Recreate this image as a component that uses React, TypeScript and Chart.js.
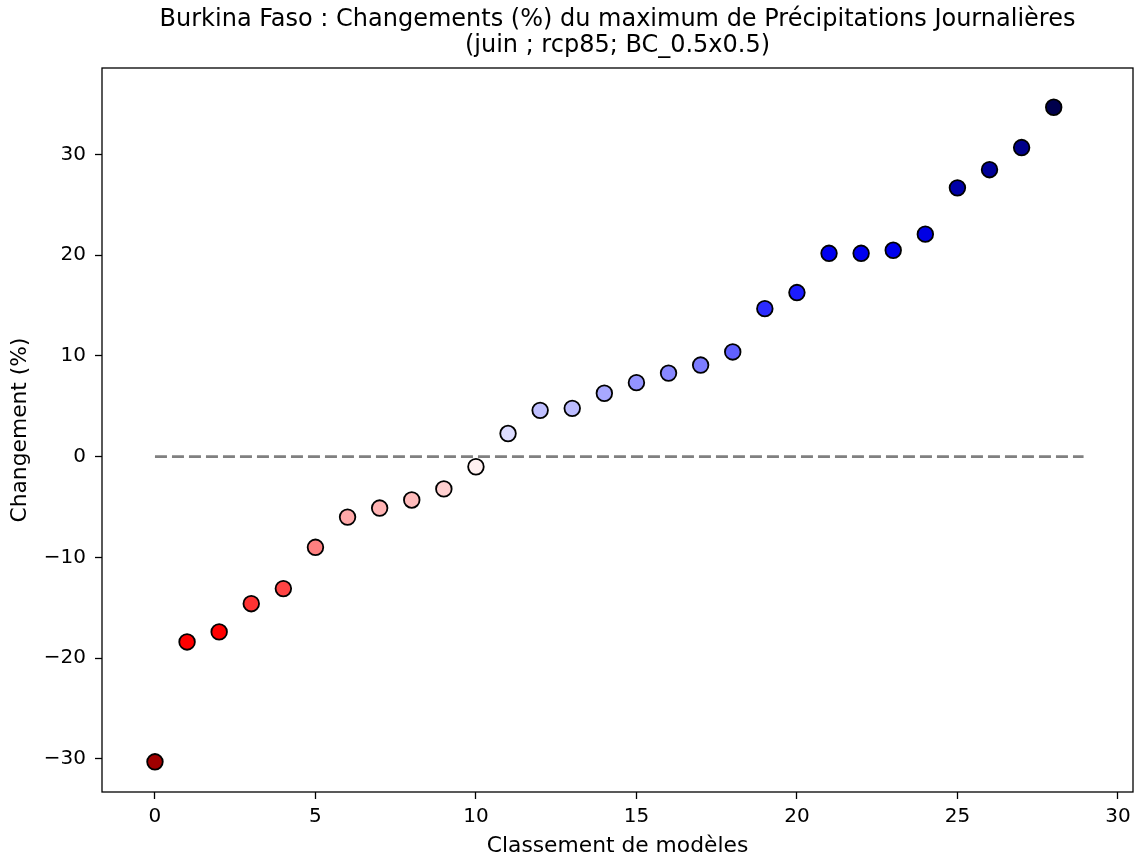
import React, { useEffect, useRef } from "react";
import { Chart, registerables } from "chart.js";

Chart.register(...registerables);

const ranks = [0, 1, 2, 3, 4, 5, 6, 7, 8, 9, 10, 11, 12, 13, 14, 15, 16, 17, 18, 19, 20, 21, 22, 23, 24, 25, 26, 27, 28];
const changes = [-30.3, -18.4, -17.4, -14.6, -13.1, -9.0, -6.0, -5.1, -4.3, -3.2, -1.0, 2.3, 4.6, 4.8, 6.3, 7.35, 8.3, 9.1, 10.4, 14.7, 16.3, 20.2, 20.2, 20.5, 22.1, 26.7, 28.5, 30.7, 34.7];
const pointColors = [
  "#a00000", "#ff0000", "#ff0000", "#ff3333", "#ff4444", "#ff8080", "#ffa8a8", "#ffb3b3", "#ffbcbc", "#ffd0d0",
  "#fff0f0", "#dcdcff", "#c0c0ff", "#bcbcff", "#a8a8ff", "#9494ff", "#8888ff", "#7c7cff", "#6060ff", "#2c2cff",
  "#1c1cff", "#0000f0", "#0000f0", "#0000ec", "#0000e4", "#0000a8", "#000098", "#00008a", "#00004c",
];
const zeroLineX = [0, 28.93];
const zeroLineY = [0, 0];
const xTicks = [0, 5, 10, 15, 20, 25, 30];
const yTicks = [-30, -20, -10, 0, 10, 20, 30];
const titleLines = [
  "Burkina Faso : Changements (%) du maximum de Précipitations Journalières",
  "(juin ; rcp85; BC_0.5x0.5)",
];
const xLabel = "Classement de modèles";
const yLabel = "Changement (%)";

const FONT = "'DejaVu Sans', sans-serif";

const frame = {
  id: "frame",
  afterDatasetsDraw(chart: any) {
    const { ctx, chartArea: a } = chart;
    ctx.save();
    ctx.strokeStyle = "#000";
    ctx.lineWidth = 1.3;
    ctx.strokeRect(a.left, a.top, a.right - a.left, a.bottom - a.top);
    ctx.restore();
  },
};

const plotTitle = {
  id: "plotTitle",
  afterDraw(chart: any) {
    const { ctx, chartArea: a } = chart;
    ctx.save();
    ctx.fillStyle = "#000";
    ctx.font = `24px ${FONT}`;
    ctx.textAlign = "center";
    ctx.textBaseline = "middle";
    const cx = (a.left + a.right) / 2;
    titleLines.forEach((t, i) => ctx.fillText(t, cx, 20 + i * 26));
    ctx.restore();
  },
};

export default function App() {
  const ref = useRef<HTMLCanvasElement | null>(null);
  useEffect(() => {
    if (!ref.current) return;
    const chart = new Chart(ref.current, {
      type: "scatter",
      data: {
        datasets: [
          {
            type: "line",
            data: zeroLineX.map((x, i) => ({ x, y: zeroLineY[i] })),
            borderColor: "#808080",
            borderWidth: 2.8,
            borderDash: [12, 5],
            pointRadius: 0,
            showLine: true,
            fill: false,
          } as any,
          {
            data: ranks.map((x, i) => ({ x, y: changes[i] })),
            backgroundColor: pointColors,
            borderColor: "#000",
            borderWidth: 1.8,
            pointRadius: 7.8,
            pointHoverRadius: 7.8,
          },
        ],
      },
      options: {
        animation: false,
        responsive: true,
        maintainAspectRatio: false,
        layout: { autoPadding: false, padding: { left: 0, right: 2, top: 68, bottom: 0 } },
        plugins: {
          legend: { display: false },
          tooltip: { enabled: false },
          title: { display: false },
        },
        scales: {
          x: {
            type: "linear",
            min: -1.65,
            max: 30.47,
            afterBuildTicks: (s: any) => {
              s.ticks = xTicks.map((v) => ({ value: v }));
            },
            afterFit: (s: any) => {
              s.height = 67;
              s.paddingLeft = 0;
              s.paddingRight = 0;
            },
            ticks: {
              color: "#000",
              font: { family: FONT, size: 20 },
              padding: 6,
              maxRotation: 0,
              autoSkip: false,
            },
            grid: { drawOnChartArea: false, drawTicks: true, tickLength: 7, tickWidth: 1.3, tickColor: "#000" },
            border: { display: false },
            title: {
              display: true,
              text: xLabel,
              color: "#000",
              font: { family: FONT, size: 21.8 },
              padding: { top: 0, bottom: 0 },
            },
          },
          y: {
            type: "linear",
            min: -33.3,
            max: 38.6,
            afterBuildTicks: (s: any) => {
              s.ticks = yTicks.map((v) => ({ value: v }));
            },
            afterFit: (s: any) => {
              s.width = 102;
              s.paddingTop = 0;
              s.paddingBottom = 0;
            },
            ticks: {
              color: "#000",
              font: { family: FONT, size: 20 },
              padding: 9,
              autoSkip: false,
              callback: (v: any) => String(v).replace("-", "\u2212"),
            },
            grid: { drawOnChartArea: false, drawTicks: true, tickLength: 7, tickWidth: 1.3, tickColor: "#000" },
            border: { display: false },
            title: {
              display: true,
              text: yLabel,
              color: "#000",
              font: { family: FONT, size: 21.8 },
              padding: { top: 7, bottom: 0 },
            },
          },
        },
      },
      plugins: [frame, plotTitle],
    });
    return () => chart.destroy();
  }, []);
  return (
    <div style={{ position: "absolute", left: 0, top: 0, width: 1135, height: 859, background: "#fff" }}>
      <canvas ref={ref} />
    </div>
  );
}
